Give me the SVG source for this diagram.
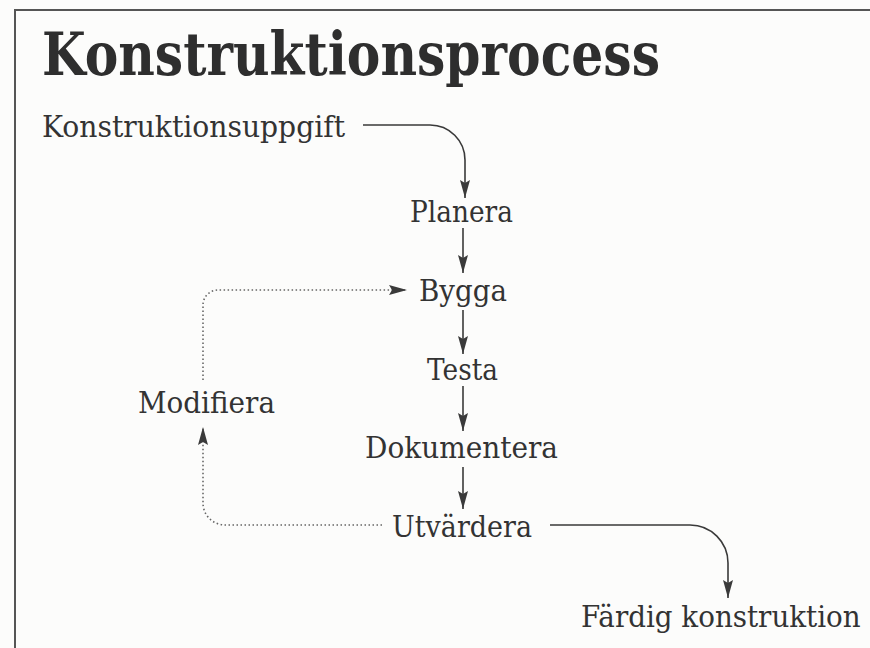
<svg xmlns="http://www.w3.org/2000/svg" width="870" height="648" viewBox="0 0 870 648">
<defs>
<marker id="ah" markerUnits="userSpaceOnUse" markerWidth="18" markerHeight="10" refX="18" refY="5" orient="auto">
<path d="M0,0 L18,5 L0,10 L3,5 z" fill="#3a3a3a"/>
</marker>
<style>
.t{font-family:"DejaVu Serif","Liberation Serif",serif;font-size:29px;fill:#333;}
.title{font-family:"DejaVu Serif","Liberation Serif",serif;font-size:60px;font-weight:bold;fill:#2e2e2e;}
.s{fill:none;stroke:#3a3a3a;stroke-width:1.6;}
.d{fill:none;stroke:#666;stroke-width:1.6;stroke-dasharray:1.5 2.5;}
</style>
</defs>
<rect width="870" height="648" fill="#fcfcfb"/>
<path d="M15,648 V10 H870" fill="none" stroke="#555" stroke-width="2"/>
<text class="title" x="42" y="75" textLength="618" lengthAdjust="spacingAndGlyphs">Konstruktionsprocess</text>
<g id="connectors">
<path class="s" d="M363,125 H430 A35,35 0 0 1 465,160 V198" marker-end="url(#ah)"/>
<path class="s" d="M463,228 V273" marker-end="url(#ah)"/>
<path class="s" d="M463,310 V354" marker-end="url(#ah)"/>
<path class="s" d="M463,386 V431" marker-end="url(#ah)"/>
<path class="s" d="M463,467 V509" marker-end="url(#ah)"/>
<path class="s" d="M550,525 H690 A38,38 0 0 1 728,563 V598" marker-end="url(#ah)"/>
<path class="d" d="M382,525 H225 A22,22 0 0 1 203,503 V427" marker-end="url(#ah)"/>
<path class="d" d="M203,380 V305 A15,15 0 0 1 218,290 H407" marker-end="url(#ah)"/>
</g>
<g id="n-uppgift"><text class="t" x="42" y="137" textLength="303" lengthAdjust="spacingAndGlyphs">Konstruktionsuppgift</text></g>
<g id="n-planera"><text class="t" x="410" y="222" textLength="103" lengthAdjust="spacingAndGlyphs">Planera</text></g>
<g id="n-bygga"><text class="t" x="419" y="301" textLength="88" lengthAdjust="spacingAndGlyphs">Bygga</text></g>
<g id="n-testa"><text class="t" x="427" y="380" textLength="71" lengthAdjust="spacingAndGlyphs">Testa</text></g>
<g id="n-modifiera"><text class="t" x="138" y="413" textLength="137" lengthAdjust="spacingAndGlyphs">Modifiera</text></g>
<g id="n-dokumentera"><text class="t" x="365" y="458" textLength="193" lengthAdjust="spacingAndGlyphs">Dokumentera</text></g>
<g id="n-utvardera"><text class="t" x="392" y="537" textLength="140" lengthAdjust="spacingAndGlyphs">Utvärdera</text></g>
<g id="n-fardig"><text class="t" transform="translate(581,627) scale(0.85,1)" x="0" y="0" textLength="329" lengthAdjust="spacingAndGlyphs">Färdig konstruktion</text></g>
</svg>
